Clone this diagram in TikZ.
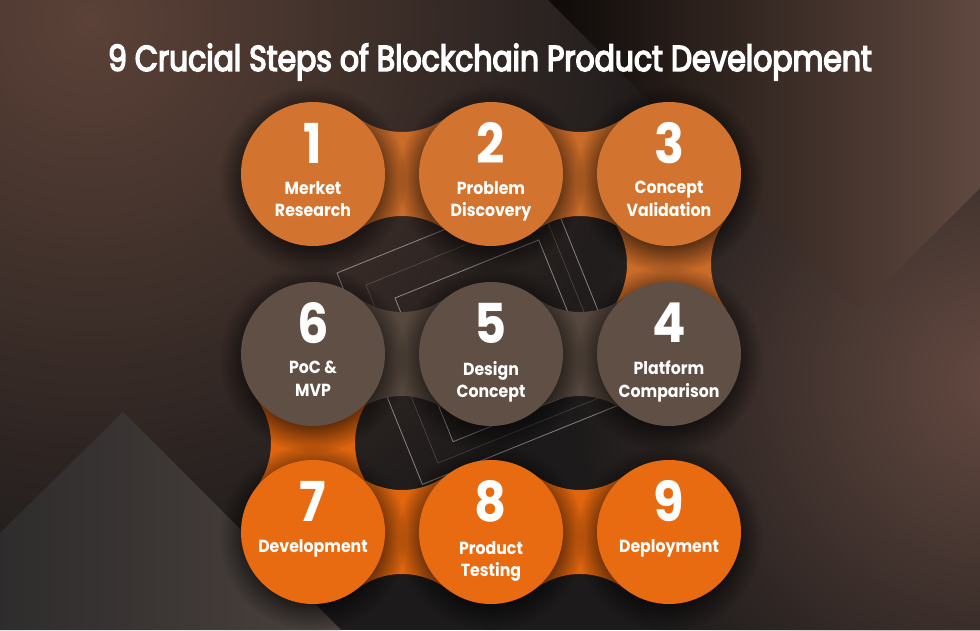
\documentclass[tikz,border=0pt]{standalone}
\usepackage{fontspec}
\setmainfont{Poppins}[FakeStretch=0.9]
\newfontfamily\titlefont{Poppins}[FakeStretch=0.83, FakeBold=4]
\usetikzlibrary{calc,shadows,fadings}

\definecolor{bgdark}{HTML}{1C1A1A}
\definecolor{bgbrown}{HTML}{5C4238}
\definecolor{bgwarm}{HTML}{654A41}
\definecolor{rowone}{HTML}{D2742F}
\definecolor{rowonelink}{HTML}{C96B29}
\definecolor{rowtwo}{HTML}{5F4F44}
\definecolor{rowtwolink}{HTML}{56483E}
\definecolor{rowthree}{HTML}{E96B11}
\definecolor{rowthreelink}{HTML}{DF650F}

\tikzfading[name=glow, inner color=transparent!0, outer color=transparent!100]
\pgfdeclareradialshading{ringshade}{\pgfpoint{0bp}{0bp}}{color(0bp)=(white); color(17bp)=(white); color(25bp)=(black); color(50bp)=(black)}
\pgfdeclarefading{ringfade}{\pgfuseshading{ringshade}}

\pgfdeclarelayer{bg}
\pgfdeclarelayer{links}
\pgfsetlayers{bg,links,main}

\tikzset{
    hbridge/.style={
        insert path={++(0,117) ++(232.74:75) arc[start angle=232.74, end angle=307.26, radius=75]
            -- ++(0,-114.6) arc[start angle=52.74, end angle=127.26, radius=75] -- cycle}
    },
    vbridge/.style={
        insert path={++(-117,0) ++(37.26:75) arc[start angle=37.26, end angle=-37.26, radius=75]
            -- ++(114.6,0) arc[start angle=217.26, end angle=142.74, radius=75] -- cycle}
    },
    stepcircle/.style={circle, minimum size=144pt, inner sep=0pt,
        circular drop shadow={shadow scale=1.3, shadow xshift=0pt, shadow yshift=-4pt, opacity=.6, fill=black, path fading=ringfade}},
    numtext/.style={text=white, font=\bfseries\fontsize{55}{55}\selectfont, inner sep=0pt},
    labtext/.style={text=white, font=\bfseries\fontsize{17.5}{22.5}\selectfont, align=center, inner sep=0pt, anchor=north}
}

\begin{document}
\begin{tikzpicture}[x=1pt,y=1pt]
\useasboundingbox (0,0) rectangle (980,630);

% background
\begin{pgfonlayer}{bg}
\fill[bgdark] (0,0) rectangle (980,630);
\fill[bgbrown, path fading=glow] (90,610) circle (600);
\fill[bgwarm, path fading=glow] (1000,250) circle (430);
\shade[left color=black!85!bgbrown, right color=bgbrown!90!gray] (548,630) -- (858,320) -- (980,442) -- (980,630) -- cycle;
\shade[left color=bgdark!92!white, right color=bgbrown!55!gray!70!black] (0,97) -- (123,218) -- (341,0) -- (0,0) -- cycle;
% thin squares behind the chain
\draw[white, opacity=.45, line width=.8pt] (337,357) -- ++(22:228) -- ++(-68:228) -- ++(202:228) -- cycle;
\draw[white, opacity=.45, line width=.8pt] (395,332) -- ++(22:155) -- ++(-68:155) -- ++(202:155) -- cycle;
\draw[white, opacity=.2, line width=.6pt] (366,345) -- ++(22:192) -- ++(-68:192) -- ++(202:192) -- cycle;
\end{pgfonlayer}

\node[text=white, anchor=base, font=\titlefont\fontsize{36}{36}\selectfont] (title) at (490,559) {9 Crucial Steps of Blockchain Product Development};

% steps
\node[stepcircle, fill=rowone] (s1) at (313,456) {};
\node[stepcircle, fill=rowone] (s2) at (491,456) {};
\node[stepcircle, fill=rowone] (s3) at (669,456) {};
\node[stepcircle, fill=rowtwo] (s4) at (669,276) {};
\node[stepcircle, fill=rowtwo] (s5) at (491,276) {};
\node[stepcircle, fill=rowtwo] (s6) at (313,276) {};
\node[stepcircle, fill=rowthree] (s7) at (313,98) {};
\node[stepcircle, fill=rowthree] (s8) at (491,98) {};
\node[stepcircle, fill=rowthree] (s9) at (669,98) {};

\node[numtext] (n1) at ([yshift=31pt]s1.center) {1};
\node[numtext] (n2) at ([yshift=31pt]s2.center) {2};
\node[numtext] (n3) at ([yshift=31pt]s3.center) {3};
\node[numtext] (n4) at ([yshift=31pt]s4.center) {4};
\node[numtext] (n5) at ([yshift=31pt]s5.center) {5};
\node[numtext] (n6) at ([yshift=31pt]s6.center) {6};
\node[numtext] (n7) at ([yshift=31pt]s7.center) {7};
\node[numtext] (n8) at ([yshift=31pt]s8.center) {8};
\node[numtext] (n9) at ([yshift=31pt]s9.center) {9};

\node[labtext] (l1) at ([yshift=-7pt]s1.center) {Merket\\Research};
\node[labtext] (l2) at ([yshift=-7pt]s2.center) {Problem\\Discovery};
\node[labtext] (l3) at ([yshift=-7pt]s3.center) {Concept\\Validation};
\node[labtext] (l4) at ([yshift=-7pt]s4.center) {Platform\\Comparison};
\node[labtext] (l5) at ([yshift=-7pt]s5.center) {Design\\Concept};
\node[labtext] (l6) at ([yshift=-7pt]s6.center) {PoC \&\\MVP};
\node[labtext] (l7) at ([yshift=-7pt]s7.center) {Development};
\node[labtext] (l8) at ([yshift=-9pt]s8.center) {Product\\Testing};
\node[labtext] (l9) at ([yshift=-7pt]s9.center) {Deployment};

% links between the steps
\begin{pgfonlayer}{links}
\fill[rowonelink] ($(s1)!.5!(s2)$) [hbridge];
\fill[rowonelink] ($(s2)!.5!(s3)$) [hbridge];
\fill[rowonelink] ($(s3)!.5!(s4)$) [vbridge];
\fill[rowtwolink] ($(s4)!.5!(s5)$) [hbridge];
\fill[rowtwolink] ($(s5)!.5!(s6)$) [hbridge];
\fill[rowthreelink] ($(s6)!.5!(s7)$) [vbridge];
\fill[rowthreelink] ($(s7)!.5!(s8)$) [hbridge];
\fill[rowthreelink] ($(s8)!.5!(s9)$) [hbridge];
\end{pgfonlayer}
\end{tikzpicture}
\end{document}
